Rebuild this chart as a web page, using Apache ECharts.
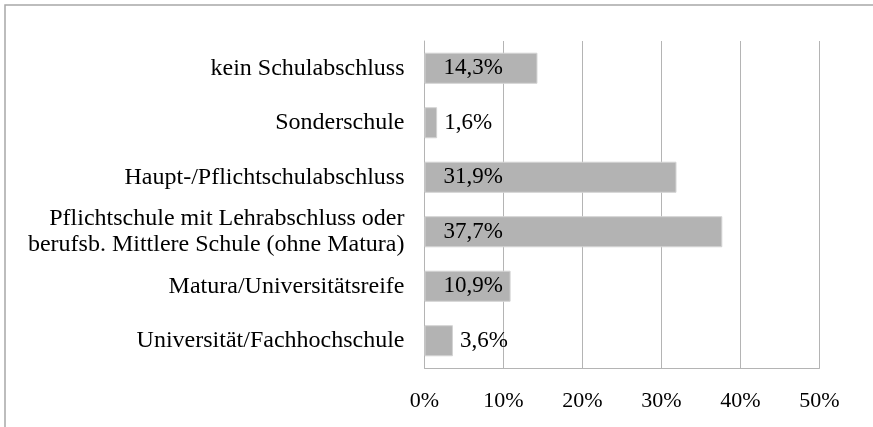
<!DOCTYPE html>
<html>
<head>
<meta charset="utf-8">
<script src="https://cdn.jsdelivr.net/npm/echarts@6/dist/echarts.min.js"></script>
<style>
  html, body { margin: 0; padding: 0; background: #fff; }
  #chart { width: 873px; height: 427px; }
</style>
</head>
<body>
<div id="chart"></div>
<script>
  // Kategorien von oben nach unten
  const categories = [
    'kein Schulabschluss',
    'Sonderschule',
    'Haupt-/Pflichtschulabschluss',
    'Pflichtschule mit Lehrabschluss oder\nberufsb. Mittlere Schule (ohne Matura)',
    'Matura/Universitätsreife',
    'Universität/Fachhochschule'
  ];
  const shares = [14.3, 1.6, 31.9, 37.7, 10.9, 3.6];
  const xTicks = [0, 10, 20, 30, 40, 50];

  const font = 'Liberation Serif, Times New Roman, serif';
  const gridGrey = '#b4b4b4';

  const fmt = v => v.toFixed(1).replace('.', ',') + '%';

  const chart = echarts.init(document.getElementById('chart'));
  chart.setOption({
    animation: false,
    graphic: [{
      type: 'rect',
      shape: { x: 5, y: 5, width: 2000, height: 2000 },
      style: { fill: 'none', stroke: '#a8a8a8', lineWidth: 1.5 },
      silent: true
    }],
    grid: { left: 424.5, right: 53.5, top: 41, bottom: 59 },
    xAxis: {
      type: 'value',
      min: xTicks[0],
      max: xTicks[xTicks.length - 1],
      interval: 10,
      axisLine: { show: true, lineStyle: { color: gridGrey, width: 1 } },
      axisTick: { show: false },
      axisLabel: {
        formatter: v => v + '%',
        color: '#000',
        fontFamily: font,
        fontSize: 22,
        margin: 22
      },
      splitLine: { show: true, lineStyle: { color: gridGrey, width: 1 } }
    },
    yAxis: {
      type: 'category',
      inverse: true,
      data: categories,
      axisLine: { show: true, lineStyle: { color: gridGrey, width: 1 } },
      axisTick: { show: false },
      axisLabel: {
        color: '#000',
        fontFamily: font,
        fontSize: 24,
        lineHeight: 26,
        margin: 20,
        align: 'right'
      }
    },
    series: [{
      type: 'bar',
      data: shares.map(v => ({
        value: v,
        label: v < 5
          ? { position: 'right', distance: 7 }
          : { position: 'insideLeft', distance: 19 }
      })),
      barWidth: '57%',
      itemStyle: { color: '#b3b3b3', borderColor: '#d4d4d4', borderWidth: 1 },
      label: {
        show: true,
        color: '#000',
        fontFamily: font,
        fontSize: 23,
        formatter: p => fmt(p.value)
      }
    }]
  });
</script>
</body>
</html>
